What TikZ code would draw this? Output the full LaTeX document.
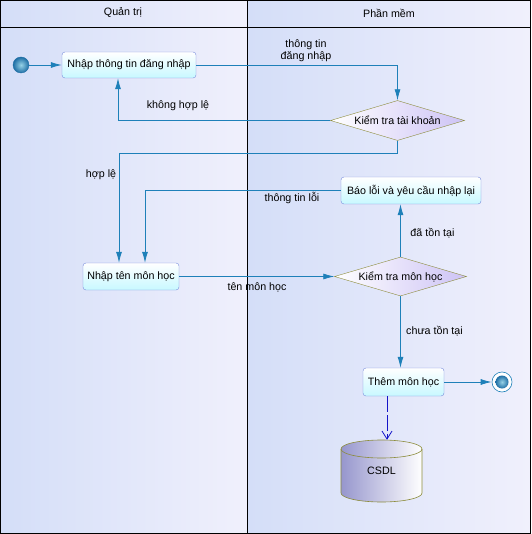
\documentclass[tikz,border=0pt]{standalone}
\usepackage{fontspec}
\setmainfont{Liberation Sans}
\usetikzlibrary{shapes.geometric,arrows.meta}
\definecolor{laneL}{RGB}{212,222,248}
\definecolor{laneR}{RGB}{240,240,252}
\definecolor{flowc}{RGB}{30,128,185}
\definecolor{boxb}{RGB}{120,140,220}
\definecolor{boxf}{RGB}{200,248,255}
\definecolor{diab}{RGB}{140,140,60}
\definecolor{diaf}{RGB}{205,195,245}
\definecolor{cylf}{RGB}{150,150,205}
\definecolor{depc}{RGB}{20,20,200}
\definecolor{dotin}{RGB}{150,210,230}
\definecolor{dotout}{RGB}{30,110,165}
\begin{document}
\begin{tikzpicture}[x=1pt,y=-1pt,
  txt/.style={font=\fontsize{10.7}{12}\selectfont, text=black},
  actbox/.style={txt, draw=boxb, rounded corners=3pt, top color=white, bottom color=boxf, inner sep=0pt, minimum height=27pt},
  decis/.style={txt, diamond, draw=diab, left color=white, right color=diaf, inner sep=0pt, shape aspect=3.3},
  flow/.style={draw=flowc, line width=0.8pt, -{Latex[length=11pt,width=6pt]}},
  dep/.style={draw=depc, line width=0.8pt, dash pattern=on 16pt off 3pt, -{Straight Barb[length=8pt,width=10pt]}},
  lbl/.style={txt, inner sep=1pt, align=center}
]
\useasboundingbox (0,0) rectangle (531,534);
% swimlanes
\shade[left color=laneL, right color=laneR] (0,0) rectangle (247,533);
\shade[left color=laneL, right color=laneR] (247,0) rectangle (530,533);
\draw[line width=1pt] (0.5,0.5) rectangle (530,533);
\draw[line width=1pt] (247,0.5) -- (247,533);
\draw[line width=0.8pt] (0.5,27) -- (530,27);
\node[txt] (h1) at (123,13) {Quản trị};
\node[txt] (h2) at (389,13) {Phần mềm};
% nodes
\node[circle, draw=dotout, inner color=dotin, outer color=dotout, minimum size=16pt, inner sep=0pt] (start) at (21,65) {};
\node[actbox, minimum width=134pt, minimum height=26pt] (n1) at (129,65) {Nhập thông tin đăng nhập};
\node[decis, minimum width=134pt, minimum height=40pt] (d1) at (397.5,120.5) {Kiểm tra tài khoản};
\node[actbox, minimum width=140pt] (n2) at (411,190.5) {Báo lỗi và yêu cầu nhập lại};
\node[decis, minimum width=132pt, minimum height=39pt] (d2) at (400.5,276.5) {Kiểm tra môn học};
\node[actbox, minimum width=96pt] (n3) at (131,276.5) {Nhập tên môn học};
\node[actbox, minimum width=81pt, minimum height=28pt] (n4) at (403.5,382) {Thêm môn học};
\node[circle, draw=flowc, line width=0.6pt, fill=white, minimum size=20pt, inner sep=0pt] (end) at (502,382) {};
\node[circle, inner color=dotin, outer color=dotout, minimum size=13pt, inner sep=0pt] (endin) at (502,382) {};
% database cylinder
\shade[left color=cylf, right color=white, draw=diab, line width=0.6pt]
  (341,449) -- (341,493) arc[start angle=180, end angle=0, x radius=40.5, y radius=9]
  -- (422,449) arc[start angle=0, end angle=-180, x radius=40.5, y radius=9] -- cycle;
\draw[diab, line width=0.6pt] (341,449) arc[start angle=180, end angle=0, x radius=40.5, y radius=9];
\node[txt, minimum width=81pt, minimum height=62pt, inner sep=0pt] (db) at (381.5,471) {CSDL};
% connectors
\draw[flow] (start) -- (n1);
\draw[flow] (n1.east) -| (d1.north);
\draw[flow] (d1.west) -| ([xshift=-11pt]n1.south);
\draw[flow] (d1.south) -- ++(0,12.5) -| ([xshift=-12pt]n3.north);
\draw[flow] (n2.west) -| ([xshift=14pt]n3.north);
\draw[flow] (n3.east) -- (d2.west);
\draw[flow] (d2.north) -- (d2.north |- n2.south);
\draw[flow] (d2.south) -- (d2.south |- n4.north);
\draw[flow] (n4.east) -- (end);
\draw[dep] ([xshift=-16.5pt]n4.south) -- ([xshift=-16.5pt]n4.south |- db.north);
% labels
\node[lbl] (l1) at (306,51) {thông tin\\đăng nhập};
\node[lbl] (l2) at (178,106) {không hợp lệ};
\node[lbl] (l3) at (101,175) {hợp lệ};
\node[lbl] (l4) at (292,198) {thông tin lỗi};
\node[lbl] (l5) at (257,287) {tên môn học};
\node[lbl] (l6) at (432.5,233) {đã tồn tại};
\node[lbl] (l7) at (434.5,331) {chưa tồn tại};
\end{tikzpicture}
\end{document}
